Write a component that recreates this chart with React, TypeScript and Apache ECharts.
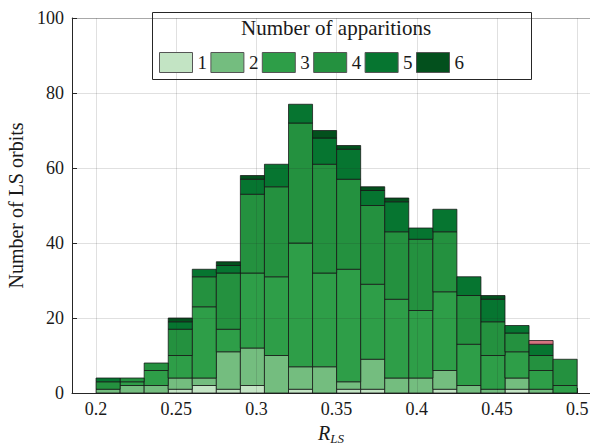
import React, { useEffect, useRef } from "react";
import * as echarts from "echarts";

// Bin edges (R_LS)
const binEdges = [0.2, 0.215, 0.23, 0.245, 0.26, 0.275, 0.29, 0.305, 0.32, 0.335, 0.35, 0.365, 0.38, 0.395, 0.41, 0.425, 0.44, 0.455, 0.47, 0.485, 0.5];

// Counts per number of apparitions (stacked, bottom to top)
const apparitions1 = [0, 0, 0, 1, 2, 1, 2, 0, 1, 0, 1, 1, 0, 0, 1, 0, 0, 1, 0, 0];
const apparitions2 = [1, 2, 2, 3, 2, 10, 10, 10, 6, 7, 2, 8, 4, 4, 5, 2, 1, 3, 1, 0];
const apparitions3 = [0, 1, 4, 6, 19, 6, 20, 21, 33, 25, 30, 20, 21, 18, 21, 11, 9, 7, 5, 2];
const apparitions4 = [2, 1, 2, 7, 8, 15, 21, 24, 32, 29, 24, 21, 18, 19, 16, 13, 9, 5, 4, 7];
const apparitions5 = [1, 0, 0, 2, 2, 2, 4, 6, 5, 7, 8, 4, 8, 3, 6, 5, 6, 2, 3, 0];
const apparitions6 = [0, 0, 0, 1, 0, 1, 1, 0, 0, 2, 1, 1, 1, 0, 0, 0, 1, 0, 0, 0];
const otherCounts = [0, 0, 0, 0, 0, 0, 0, 0, 0, 0, 0, 0, 0, 0, 0, 0, 0, 0, 1, 0];

const seriesNames = ["1", "2", "3", "4", "5", "6"];
const seriesColors = ["#c3e4c4", "#74bd7f", "#2e9e48", "#24913f", "#067530", "#03501d"];
const otherColor = "#d4737f";

const xTicks = [0.2, 0.25, 0.3, 0.35, 0.4, 0.45, 0.5];
const yTicks = [0, 20, 40, 60, 80, 100];

const FONT = "'Liberation Serif', 'Times New Roman', serif";

export default function App() {
  const ref = useRef<HTMLDivElement>(null);

  useEffect(() => {
    if (!ref.current) return;
    document.body.style.margin = "0";
    const chart = echarts.init(ref.current, null, { renderer: "svg" });

    const stacks = [apparitions1, apparitions2, apparitions3, apparitions4, apparitions5, apparitions6, otherCounts];
    const names = [...seriesNames, "Other"];
    const colors = [...seriesColors, otherColor];
    const cum = binEdges.slice(0, -1).map(() => 0);

    const barSeries = stacks.map((arr, si) => {
      const data = arr.map((v, i) => {
        const base = cum[i];
        cum[i] += v;
        return [binEdges[i], binEdges[i + 1], base, base + v];
      });
      const color = colors[si];
      return {
        type: "custom",
        name: names[si],
        xAxisIndex: 0,
        yAxisIndex: 0,
        itemStyle: { color },
        encode: { x: [0, 1], y: [2, 3] },
        z: 2,
        renderItem: (params: any, api: any) => {
          const x0 = api.value(0);
          const x1 = api.value(1);
          const y0 = api.value(2);
          const y1 = api.value(3);
          if (y1 <= y0) return null;
          const p0 = api.coord([x0, y1]);
          const p1 = api.coord([x1, y0]);
          return {
            type: "rect",
            shape: { x: p0[0], y: p0[1], width: p1[0] - p0[0], height: p1[1] - p0[1] },
            style: { fill: color, stroke: "rgba(20,20,20,0.75)", lineWidth: 1 },
          };
        },
        data,
      };
    });

    const gridSeries = {
      type: "line",
      name: "grid",
      data: [],
      z: 5,
      silent: true,
      markLine: {
        silent: true,
        symbol: "none",
        label: { show: false },
        animation: false,
        lineStyle: { color: "rgba(38,38,38,0.14)", type: "solid", width: 1 },
        data: [
          ...xTicks.map((v) => ({ xAxis: v })),
          ...yTicks.filter((v) => v > 0 && v < 100).map((v) => ({ yAxis: v })),
        ],
      },
    };

    const option: any = {
      animation: false,
      backgroundColor: "#ffffff",
      textStyle: { fontFamily: FONT },
      grid: { left: 72, top: 18, right: 0, bottom: 50, containLabel: false, outerBoundsMode: "none" },
      legend: {
        data: seriesNames,
        left: 159,
        top: 52,
        padding: 0,
        orient: "horizontal",
        icon: "rect",
        itemWidth: 33,
        itemHeight: 20,
        itemGap: 3.4,
        itemStyle: { borderColor: "#555555", borderWidth: 1 },
        textStyle: { fontFamily: FONT, fontSize: 19, color: "#1a1a1a", width: 22, padding: [2, 0, 0, 0] },
        selectedMode: false,
        z: 10,
      },
      graphic: [
        {
          type: "rect",
          left: 152,
          top: 12,
          shape: { width: 379, height: 67 },
          style: { fill: "transparent", stroke: "#262626", lineWidth: 1 },
          z: 9,
          silent: true,
        },
        {
          type: "text",
          left: 241,
          top: 17,
          style: { text: "Number of apparitions", font: `21px ${FONT}`, fill: "#1a1a1a" },
          z: 10,
          silent: true,
        },
      ],
      xAxis: [
        {
          type: "value",
          min: 0.185,
          max: 0.508,
          position: "bottom",
          axisLine: { show: true, lineStyle: { color: "#262626", width: 1 } },
          axisTick: { show: true, inside: true, length: 5, customValues: xTicks, lineStyle: { color: "#262626" } },
          axisLabel: {
            show: true,
            customValues: xTicks,
            margin: 7,
            fontFamily: FONT,
            fontSize: 18,
            color: "#1a1a1a",
            formatter: (v: number) => String(Math.round(v * 100) / 100),
          },
          splitLine: { show: false },
          name: "{r|R}{s|LS}",
          nameLocation: "middle",
          nameGap: 18,
          nameTextStyle: {
            rich: {
              r: { fontFamily: FONT, fontStyle: "italic", fontSize: 20, color: "#1a1a1a", lineHeight: 22, verticalAlign: "top" },
              s: { fontFamily: FONT, fontStyle: "italic", fontSize: 13, color: "#1a1a1a", lineHeight: 13, verticalAlign: "bottom" },
            },
          },
        },
        {
          type: "value",
          min: 0.185,
          max: 0.508,
          position: "top",
          axisLine: { show: true, lineStyle: { color: "#a8a8a8", width: 1 } },
          axisTick: { show: false },
          axisLabel: { show: false },
          splitLine: { show: false },
        },
      ],
      yAxis: [
        {
          type: "value",
          min: 0,
          max: 100,
          interval: 20,
          axisLine: { show: true, lineStyle: { color: "#262626", width: 1 } },
          axisTick: { show: true, inside: true, length: 5, lineStyle: { color: "#262626" } },
          axisLabel: { margin: 8, fontFamily: FONT, fontSize: 18, color: "#1a1a1a" },
          splitLine: { show: false },
          name: "Number of LS orbits",
          nameLocation: "middle",
          nameGap: 40,
          nameTextStyle: { fontFamily: FONT, fontSize: 20, color: "#1a1a1a" },
        },
      ],
      series: [gridSeries, ...barSeries],
    };

    chart.setOption(option);
    return () => chart.dispose();
  }, []);

  return <div ref={ref} style={{ width: 590, height: 443 }} />;
}
